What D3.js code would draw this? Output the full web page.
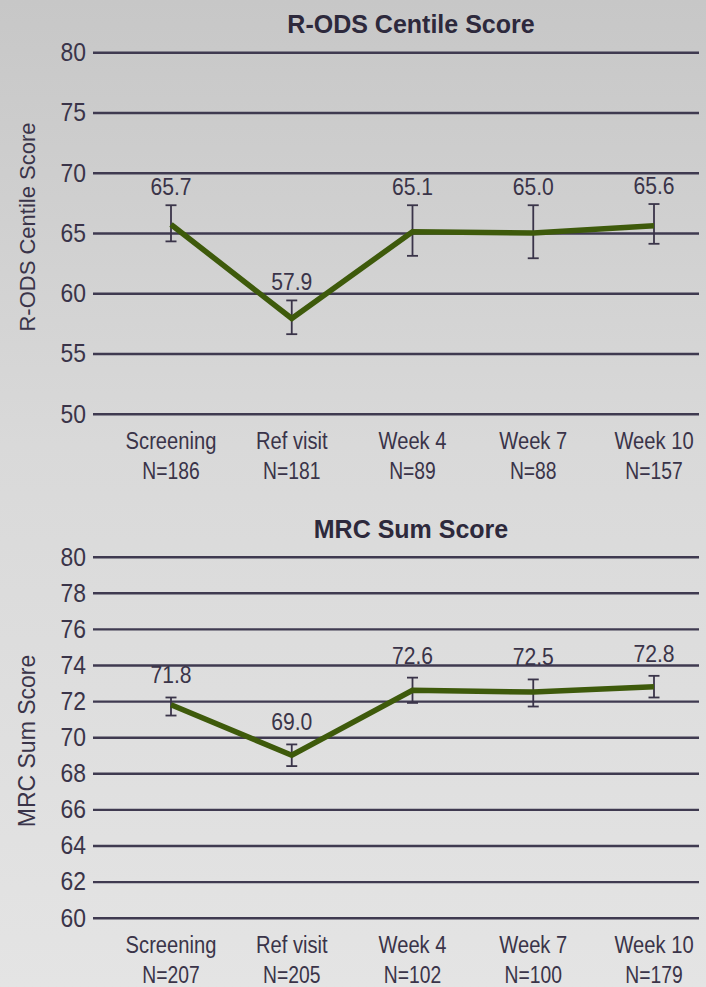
<!DOCTYPE html>
<html>
<head>
<meta charset="utf-8">
<script src="https://cdn.jsdelivr.net/npm/d3@7"></script>
<style>
  html, body { margin: 0; padding: 0; }
  body { width: 706px; height: 987px; overflow: hidden; }
  svg { display: block; }
</style>
</head>
<body>
<svg id="chart" width="706" height="987"></svg>
<script>
// Visits shown along the x axis of both panels
const visits = ["Screening", "Ref visit", "Week 4", "Week 7", "Week 10"];

// R-ODS centile score: mean with error-bar limits, and patients per visit
const rodsN    = [186, 181, 89, 88, 157];
const rodsMean = [65.7, 57.9, 65.1, 65.0, 65.6];
const rodsLow  = [64.3, 56.6, 63.1, 62.9, 64.1];
const rodsHigh = [67.3, 59.4, 67.3, 67.3, 67.4];
const rodsTicks = [50, 55, 60, 65, 70, 75, 80];

// MRC sum score: mean with error-bar limits, and patients per visit
const mrcN    = [207, 205, 102, 100, 179];
const mrcMean = [71.8, 69.0, 72.6, 72.5, 72.8];
const mrcLow  = [71.2, 68.4, 71.9, 71.7, 72.2];
const mrcHigh = [72.2, 69.6, 73.3, 73.2, 73.4];
const mrcTicks = [60, 62, 64, 66, 68, 70, 72, 74, 76, 78, 80];

const svg = d3.select("#chart");

// soft grey backdrop, darker at the top
const defs = svg.append("defs");
const grad = defs.append("linearGradient")
  .attr("id", "bg").attr("x1", 0).attr("y1", 0).attr("x2", 0).attr("y2", 1);
grad.append("stop").attr("offset", "0%").attr("stop-color", "#c7c7c7");
grad.append("stop").attr("offset", "45%").attr("stop-color", "#d9d9d9");
grad.append("stop").attr("offset", "100%").attr("stop-color", "#e4e4e4");
svg.append("rect").attr("width", 706).attr("height", 987).attr("fill", "url(#bg)");

const INK = "#3a3449";
const GRID = "#3f3a50";
const LINE = "#3e5a0b";
const sans = "'Liberation Sans', Arial, sans-serif";

const gridLeft = 93, gridRight = 699;
const x = d3.scalePoint().domain(visits).range([171, 654]);

// text squeezed horizontally to a condensed face
function condensed(sel, px, py, sx) {
  return sel.attr("transform", `translate(${px},${py}) scale(${sx},1)`);
}

function panel(opts) {
  const { title, yTitle, yTitleMid, yTitleSize, top, bottom, domain, ticks, mean, low, high, n, labelGap } = opts;
  const y = d3.scaleLinear().domain(domain).range([bottom, top]);
  const g = svg.append("g");

  // horizontal gridlines with tick labels
  const axis = d3.axisLeft(y)
    .tickValues(ticks)
    .tickSize(-(gridRight - gridLeft))
    .tickPadding(8)
    .tickFormat(d3.format("d"));
  const ag = g.append("g")
    .attr("transform", `translate(${gridLeft},0)`)
    .call(axis);
  ag.select(".domain").remove();
  ag.selectAll(".tick line").attr("stroke", GRID).attr("stroke-width", 2.4);
  ag.selectAll(".tick text")
    .attr("fill", INK)
    .attr("transform", "scale(0.88,1)")
    .style("font-family", sans)
    .style("font-size", "26px");

  // chart title
  g.append("text")
    .attr("x", 411).attr("y", top - 19)
    .attr("text-anchor", "middle")
    .attr("fill", "#2d293c")
    .style("font-family", sans)
    .style("font-weight", "bold")
    .style("font-size", "25px")
    .text(title);

  // vertical axis title
  g.append("text")
    .attr("transform", `translate(35,${yTitleMid}) rotate(-90)`)
    .attr("text-anchor", "middle")
    .attr("fill", INK)
    .style("font-family", sans)
    .style("font-size", yTitleSize + "px")
    .text(yTitle);

  // visit labels with patient counts
  const xg = g.append("g");
  visits.forEach((v, i) => {
    condensed(xg.append("text"), x(v), bottom + 35.5, 0.84)
      .attr("text-anchor", "middle").attr("fill", INK)
      .style("font-family", sans).style("font-size", "24px")
      .text(v);
    condensed(xg.append("text"), x(v), bottom + 65.5, 0.84)
      .attr("text-anchor", "middle").attr("fill", INK)
      .style("font-family", sans).style("font-size", "23px")
      .text("N=" + n[i]);
  });

  const pts = visits.map((v, i) => ({ v, m: mean[i], lo: low[i], hi: high[i] }));

  // error bars
  const eb = g.append("g").attr("stroke", INK).attr("stroke-width", 1.8).attr("fill", "none");
  const cap = 5.5;
  pts.forEach(p => {
    const cx = x(p.v);
    eb.append("line").attr("x1", cx).attr("x2", cx).attr("y1", y(p.hi)).attr("y2", y(p.lo));
    eb.append("line").attr("x1", cx - cap).attr("x2", cx + cap).attr("y1", y(p.hi)).attr("y2", y(p.hi));
    eb.append("line").attr("x1", cx - cap).attr("x2", cx + cap).attr("y1", y(p.lo)).attr("y2", y(p.lo));
  });

  // mean line
  g.append("path")
    .datum(pts)
    .attr("fill", "none")
    .attr("stroke", LINE)
    .attr("stroke-width", 5.5)
    .attr("stroke-linejoin", "miter")
    .attr("d", d3.line().x(d => x(d.v)).y(d => y(d.m)));

  // value labels above each error bar
  const vg = g.append("g");
  pts.forEach(p => {
    condensed(vg.append("text"), x(p.v), y(p.hi) - labelGap, 0.88)
      .attr("text-anchor", "middle").attr("fill", INK)
      .style("font-family", sans).style("font-size", "24px")
      .text(d3.format(".1f")(p.m));
  });
}

panel({
  title: "R-ODS Centile Score",
  yTitle: "R-ODS Centile Score",
  yTitleMid: 227, yTitleSize: 22,
  top: 52.2, bottom: 413.7,
  domain: [50, 80], ticks: rodsTicks,
  mean: rodsMean, low: rodsLow, high: rodsHigh, n: rodsN,
  labelGap: 10
});

panel({
  title: "MRC Sum Score",
  yTitle: "MRC Sum Score",
  yTitleMid: 741, yTitleSize: 23,
  top: 556.7, bottom: 917.7,
  domain: [60, 80], ticks: mrcTicks,
  mean: mrcMean, low: mrcLow, high: mrcHigh, n: mrcN,
  labelGap: 14
});
</script>
</body>
</html>
